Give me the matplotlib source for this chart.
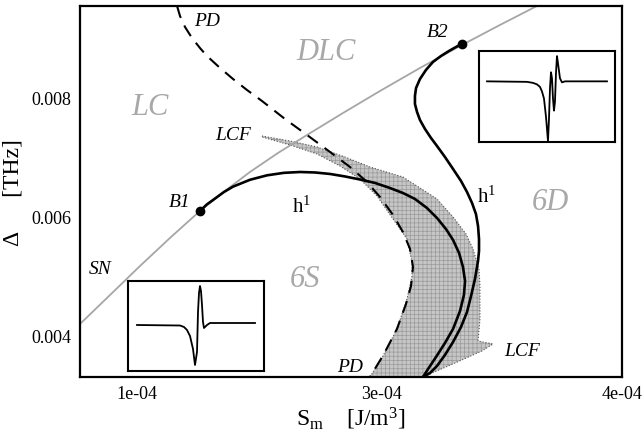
import matplotlib
matplotlib.use("Agg")
import matplotlib.pyplot as plt
from matplotlib.patches import Polygon

plt.rcParams['font.family'] = ['Liberation Serif', 'DejaVu Serif']
plt.rcParams['mathtext.fontset'] = 'custom'
plt.rcParams['mathtext.rm'] = 'Liberation Serif'
plt.rcParams['mathtext.it'] = 'Liberation Serif:italic'
plt.rcParams['hatch.linewidth'] = 0.5

# S_m in units of 1e-4 J/m^3, Delta in THz
sn_x = [0.535, 0.780, 1.025, 1.269, 1.514, 1.718, 1.922, 2.151, 2.388, 2.682,
        2.984, 3.310, 3.653, 3.963, 4.265]
sn_y = [0.004202, 0.004689, 0.005177, 0.005647, 0.006101, 0.006437, 0.006756, 0.007076,
        0.007378, 0.007748, 0.008118, 0.008504, 0.008891, 0.009227, 0.009546]

pd_x = [1.327, 1.351, 1.392, 1.449, 1.514, 1.571, 1.678, 1.784, 1.898, 2.020, 2.208,
        2.388, 2.576, 2.739, 2.869, 2.984, 3.090, 3.171, 3.229, 3.253, 3.237, 3.196,
        3.122, 3.016, 2.902]
pd_y = [0.009546, 0.009378, 0.009193, 0.009008, 0.008840, 0.008706, 0.008504, 0.008319,
        0.008134, 0.007950, 0.007647, 0.007378, 0.007092, 0.006840, 0.006605, 0.006336,
        0.006034, 0.005748, 0.005462, 0.005160, 0.004840, 0.004538, 0.004118, 0.003698,
        0.003311]

h1a_x = [1.514, 1.571, 1.637, 1.710, 1.784, 1.922, 2.061, 2.200, 2.331, 2.453, 2.576,
         2.698, 2.820, 2.943, 3.065, 3.171, 3.269, 3.367, 3.449, 3.522, 3.580, 3.629,
         3.661, 3.678, 3.669, 3.637, 3.580, 3.514, 3.441, 3.376, 3.335]
h1a_y = [0.006101, 0.006212, 0.006310, 0.006420, 0.006510, 0.006625, 0.006700, 0.006742,
         0.006756, 0.006748, 0.006723, 0.006681, 0.006630, 0.006572, 0.006487, 0.006403,
         0.006303, 0.006151, 0.005983, 0.005798, 0.005614, 0.005395, 0.005160, 0.004924,
         0.004689, 0.004420, 0.004118, 0.003882, 0.003647, 0.003445, 0.003311]

h1b_x = [3.653, 3.604, 3.547, 3.482, 3.416, 3.359, 3.310, 3.278, 3.269, 3.269, 3.286,
         3.310, 3.351, 3.400, 3.449, 3.514, 3.580, 3.645, 3.694, 3.735, 3.767, 3.784,
         3.792, 3.792, 3.784, 3.759, 3.727, 3.694, 3.645, 3.580, 3.514, 3.449, 3.392, 3.335]
h1b_y = [0.008908, 0.008857, 0.008790, 0.008706, 0.008605, 0.008471, 0.008319, 0.008168,
         0.008034, 0.007899, 0.007765, 0.007630, 0.007479, 0.007328, 0.007193, 0.007008,
         0.006807, 0.006605, 0.006420, 0.006235, 0.006050, 0.005849, 0.005630, 0.005429,
         0.005261, 0.004958, 0.004672, 0.004403, 0.004151, 0.003899, 0.003681, 0.003496,
         0.003378, 0.003311]

# LCF region outline
lcf_x = [2.020, 2.249, 2.469, 2.698, 2.902, 3.171, 3.449, 3.580, 3.686, 3.743, 3.792,
         3.800, 3.800, 3.784, 3.906, 3.816, 3.596, 3.335, 2.902, 3.008, 3.122, 3.204,
         3.245, 3.245, 3.204, 3.090, 2.959, 2.820, 2.657, 2.469, 2.249, 2.020]
lcf_y = [0.007361, 0.007277, 0.007177, 0.007008, 0.006840, 0.006672, 0.006303, 0.006000,
         0.005714, 0.005462, 0.005126, 0.004840, 0.004286, 0.003916, 0.003866, 0.003748,
         0.003546, 0.003311, 0.003311, 0.003664, 0.004118, 0.004622, 0.005008, 0.005244,
         0.005630, 0.005966, 0.006353, 0.006639, 0.006857, 0.007059, 0.007210, 0.007345]

bif_x = [1.514, 3.653]
bif_y = [0.006101, 0.008908]

# inset pulse shapes (arbitrary units)
pulse6s_t = [9, 52, 56, 59, 62, 65, 67, 69, 70, 71, 72, 73, 74, 75, 76, 79, 82, 127]
pulse6s_a = [46, 45.5, 44, 41, 35, 22, 6, 19, 59, 78, 85, 80, 66, 49, 43, 46, 48, 48]
pulse6d_t = [8, 48, 54, 58, 61, 63, 65, 67, 69, 70, 71, 72, 73, 74, 75, 76, 77, 78, 79, 81, 83, 86, 128]
pulse6d_a = [60, 59.5, 58.5, 57, 54.5, 50, 43, 25, 1, 23, 53, 69, 63, 43, 31, 40, 68, 85, 78, 63, 59, 60, 60]

xticks = [1.0, 3.0, 4.959]
xticklabels = ['1e-04', '3e-04', '4e-04']
yticks = [0.004, 0.006, 0.008]
yticklabels = ['0.004', '0.006', '0.008']

fig = plt.figure(figsize=(6.42, 4.31), dpi=100)
ax = fig.add_axes([0.1246, 0.1230, 0.8442, 0.8608])

# stippled LCF band
ax.add_patch(Polygon(list(zip(lcf_x, lcf_y)), closed=True, facecolor='#c6c6c6',
                     edgecolor='#9a9a9a', linewidth=0, hatch='++++', zorder=1))
ax.plot(lcf_x + lcf_x[:1], lcf_y + lcf_y[:1], color='#555555', ls=':', lw=0.8, zorder=1)

ax.plot(sn_x, sn_y, color='#a6a6a6', lw=1.3, zorder=2)
ax.plot(pd_x, pd_y, color='black', lw=1.5, dashes=(6, 4), zorder=3)
ax.plot(h1a_x, h1a_y, color='black', lw=1.9, zorder=4)
ax.plot(h1b_x, h1b_y, color='black', lw=1.9, zorder=4)
ax.plot(bif_x, bif_y, 'o', color='black', ms=6, zorder=5)

ax.set_xlim(0.5347, 4.959)
ax.set_ylim(0.003311, 0.009546)
ax.set_xticks(xticks)
ax.set_xticklabels(xticklabels)
ax.set_yticks(yticks)
ax.set_yticklabels(yticklabels)
ax.tick_params(length=0, labelsize=13, pad=6)
for s in ax.spines.values():
    s.set_linewidth(1.6)

ax.set_xlabel(r'S$_{\mathrm{m}}$    [J/m$^{3}$]', fontsize=17, labelpad=2)
ax.set_ylabel('\u0394      [THz]', fontsize=17, labelpad=6)

gray = '#a8a8a8'
big = dict(color=gray, fontsize=22, style='italic', ha='center', va='center', transform=ax.transAxes)
ax.text(0.4539, 0.8760, 'DLC', **big)
ax.text(0.1292, 0.7278, 'LC', **big)
ax.text(0.8672, 0.4717, '6D', **big)
ax.text(0.4151, 0.2642, '6S', **big)

small = dict(color='black', fontsize=14, style='italic', ha='center', va='center', transform=ax.transAxes)
ax.text(0.2343, 0.9596, 'PD', **small)
ax.text(0.2823, 0.6523, 'LCF', **small)
ax.text(0.1845, 0.4717, 'B1', **small)
ax.text(0.6605, 0.9299, 'B2', **small)
ax.text(0.0369, 0.2911, 'SN', **small)
ax.text(0.4982, 0.0296, 'PD', **small)
ax.text(0.8155, 0.0701, 'LCF', **small)
ax.text(0.4096, 0.4609, r'h$^{1}$', color='black', fontsize=15, ha='center', va='center', transform=ax.transAxes)
ax.text(0.7509, 0.4879, r'h$^{1}$', color='black', fontsize=15, ha='center', va='center', transform=ax.transAxes)

# insets with the pulse profiles
for rect, t, a in [([0.1994, 0.1369, 0.2118, 0.2088], pulse6s_t, pulse6s_a),
                   ([0.7461, 0.6682, 0.2118, 0.2111], pulse6d_t, pulse6d_a)]:
    ins = fig.add_axes(rect)
    ins.plot(t, a, color='black', lw=1.3)
    ins.set_xlim(0, 136)
    ins.set_ylim(0, 90)
    ins.set_xticks([])
    ins.set_yticks([])
    for s in ins.spines.values():
        s.set_linewidth(1.5)

fig.savefig('out.png', dpi=100)
